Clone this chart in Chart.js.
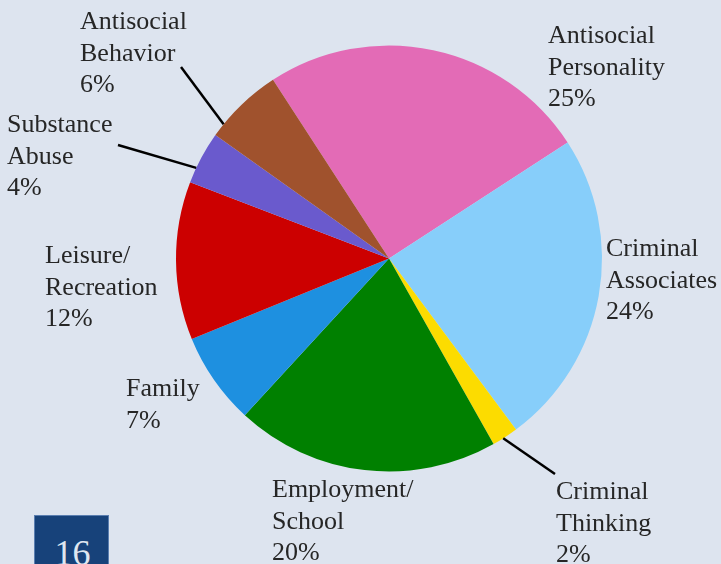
<!DOCTYPE html>
<html>
<head>
<meta charset="utf-8">
<script src="https://cdn.jsdelivr.net/npm/chart.js@4"></script>
<style>
    html, body { margin: 0; padding: 0; background: #dde4ef; }
    #wrap { position: relative; width: 721px; height: 564px; }
    .page-num {
        position: absolute; left: 34px; top: 515px; width: 75px; height: 60px;
        background: #17427a; border: 1px solid #5a7eb0; box-sizing: border-box;
        color: #dfe6f0; font: 36px "Liberation Serif", serif; text-align: center;
        line-height: 60px; padding-top: 7px; padding-left: 2px;
    }
</style>
</head>
<body>
<div id="wrap">
    <canvas id="pie" width="721" height="564"></canvas>
    <div class="page-num">16</div>
</div>
<script>
// risk factor shares (percent)
const categories = [
    ['Antisocial', 'Personality'],
    ['Criminal', 'Associates'],
    ['Criminal', 'Thinking'],
    ['Employment/', 'School'],
    ['Family'],
    ['Leisure/', 'Recreation'],
    ['Substance', 'Abuse'],
    ['Antisocial', 'Behavior']
];
const shares = [25, 24, 2, 20, 7, 12, 4, 6];
const sliceColors = ['#e36bb6', '#87cefa', '#fcdc00', '#008000', '#1e90e0', '#cc0000', '#6a5acd', '#a0522d'];

// where each label block sits (left x, first baseline)
const labelPos = [
    [548, 43], [606, 256], [556, 499], [272, 497],
    [126, 396], [45, 263], [7, 132], [80, 29]
];
// leader lines: slice index, fraction along the arc, far end
const leaders = [
    { i: 7, t: 0.17, to: [181, 67] },
    { i: 6, t: 0.29, to: [118, 145] },
    { i: 2, t: 0.58, to: [555, 474] }
];

const labelPlugin = {
    id: 'sliceLabels',
    afterDatasetsDraw(chart) {
        const ctx = chart.ctx;
        const arcs = chart.getDatasetMeta(0).data;
        ctx.save();
        ctx.strokeStyle = '#000';
        ctx.lineWidth = 2.5;
        leaders.forEach(l => {
            const a = arcs[l.i];
            const ang = a.startAngle + (a.endAngle - a.startAngle) * l.t;
            ctx.beginPath();
            ctx.moveTo(a.x + Math.cos(ang) * a.outerRadius, a.y + Math.sin(ang) * a.outerRadius);
            ctx.lineTo(l.to[0], l.to[1]);
            ctx.stroke();
        });
        ctx.fillStyle = '#262626';
        ctx.font = '26px "Liberation Serif", "Times New Roman", serif';
        ctx.textBaseline = 'alphabetic';
        ctx.textAlign = 'left';
        categories.forEach((lines, i) => {
            const [x, y] = labelPos[i];
            lines.concat(shares[i] + '%').forEach((s, k) => ctx.fillText(s, x, y + k * 31.7));
        });
        ctx.restore();
    }
};

new Chart(document.getElementById('pie'), {
    type: 'pie',
    data: {
        labels: categories.map(c => c.join(' ')),
        datasets: [{
            data: shares,
            backgroundColor: sliceColors,
            borderWidth: 0,
            hoverOffset: 0
        }]
    },
    options: {
        responsive: false,
        animation: false,
        rotation: -33,
        layout: { padding: { left: 176, right: 119, top: 45, bottom: 92 } },
        plugins: { legend: { display: false }, tooltip: { enabled: false } },
        events: []
    },
    plugins: [labelPlugin]
});
</script>
</body>
</html>
